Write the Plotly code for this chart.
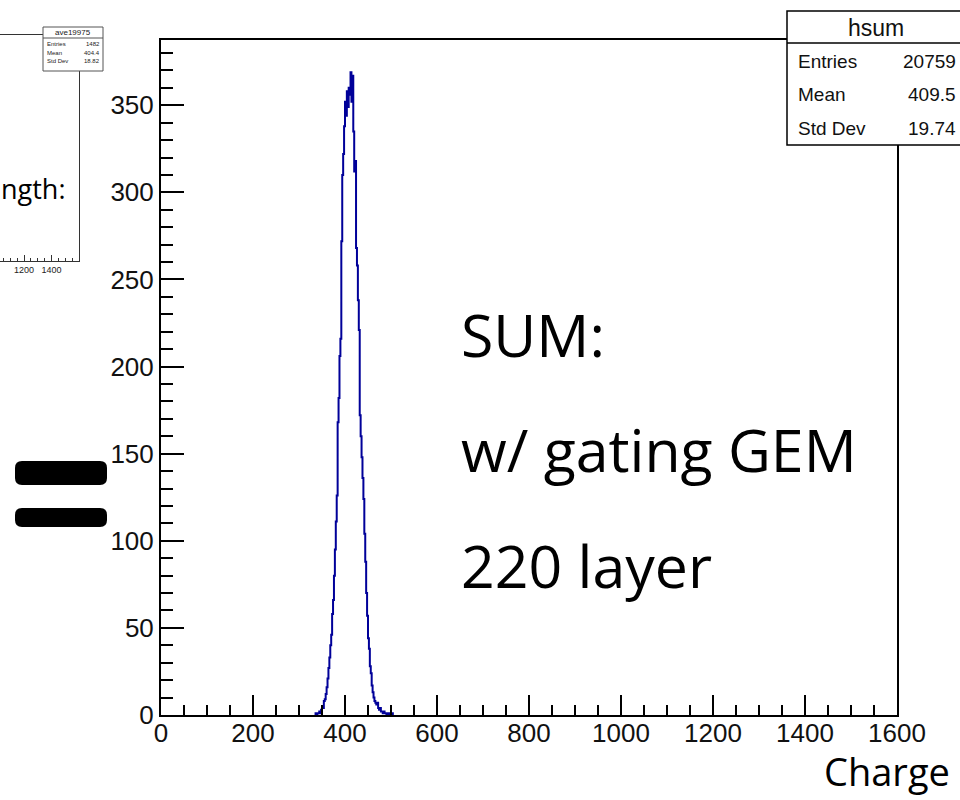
import plotly.graph_objects as go

# Summed charge spectrum (hsum), 2-unit bins starting at 334
bin_edges = list(range(334, 508, 2))
counts = [
    0, 1, 0, 1, 1, 2, 1, 3, 5, 4,
    8, 9, 12, 16, 21, 27, 33, 40, 46, 58,
    66, 80, 95, 111, 126, 168, 182, 206, 216, 272,
    310, 322, 338, 352, 344, 358, 349, 360, 356, 369,
    352, 367, 335, 312, 318, 268, 258, 238, 221, 172,
    160, 148, 136, 124, 104, 88, 70, 57, 44, 38,
    28, 24, 17, 13, 10, 8, 7, 6, 7, 4,
    3, 4, 2, 2, 1, 2, 1, 1, 0, 1,
    1, 0, 1, 0, 1, 0,
]
bin_width = 2

hsum_stats = [("Entries", "20759"), ("Mean", "409.5"), ("Std Dev", "19.74")]
ave_stats = [("Entries", "1482"), ("Mean", "404.4"), ("Std Dev", "18.82")]

x_ticks = [0, 200, 400, 600, 800, 1000, 1200, 1400, 1600]
y_ticks = [0, 50, 100, 150, 200, 250, 300, 350]

W, H = 960, 800


def px(x):
    return x / W


def py(y):
    return 1 - y / H


# step outline of the histogram
xs = [bin_edges[0]] + bin_edges[: len(counts)] + [bin_edges[len(counts) - 1] + bin_width]
ys = [0] + counts + [0]

fig = go.Figure()
fig.add_trace(go.Scatter(
    x=xs, y=ys, mode="lines", line=dict(color="#000099", width=2, shape="hv"),
    xaxis="x", yaxis="y", showlegend=False, hoverinfo="skip",
))
# neighbouring canvas on the left, only partly in view
fig.add_trace(go.Scatter(
    x=[1300], y=[0], mode="markers", marker=dict(opacity=0),
    xaxis="x2", yaxis="y2", showlegend=False, hoverinfo="skip",
))

tick_font = dict(family="Liberation Sans, Arial, sans-serif", size=26, color="#111")
ymax = 1.05 * max(counts)

# left canvas: 200 units every 27.5 px, 1600 at its right frame edge (x=79)
left_px_per_unit = 27.5 / 200
left_range_lo = 1600 - 79 / left_px_per_unit

fig.update_layout(
    width=W, height=H,
    margin=dict(l=0, r=0, t=0, b=0),
    paper_bgcolor="white", plot_bgcolor="white",
    xaxis=dict(
        domain=[px(161), px(897)], anchor="y", range=[0, 1600], automargin=False,
        tickvals=x_ticks, ticks="inside", ticklen=20, tickwidth=1.5, tickcolor="black",
        minor=dict(dtick=50, ticks="inside", ticklen=10, tickwidth=1.5, tickcolor="black"),
        showline=True, linecolor="black", linewidth=2, mirror=True,
        showgrid=False, zeroline=False, tickfont=tick_font, ticklabelstandoff=-6,
    ),
    yaxis=dict(
        domain=[py(715), py(40)], anchor="x", range=[0, ymax], automargin=False,
        tickvals=y_ticks, ticks="inside", ticklen=23, tickwidth=1.5, tickcolor="black",
        minor=dict(dtick=10, ticks="inside", ticklen=12, tickwidth=1.5, tickcolor="black"),
        showline=True, linecolor="black", linewidth=2, mirror=True,
        showgrid=False, zeroline=False, tickfont=tick_font,
    ),
    xaxis2=dict(
        domain=[0, px(79)], anchor="y2", range=[left_range_lo, 1600], automargin=False,
        tickvals=[1200, 1400], ticks="inside", ticklen=6, tickwidth=1, tickcolor="#333",
        minor=dict(dtick=50, ticks="inside", ticklen=3, tickwidth=1, tickcolor="#333"),
        showline=True, linecolor="#333", linewidth=1, mirror=True,
        showgrid=False, zeroline=False,
        tickfont=dict(family="Liberation Sans, Arial, sans-serif", size=9, color="#222"),
    ),
    yaxis2=dict(
        domain=[py(261), py(35)], anchor="x2", range=[0, 1], side="right", automargin=False,
        showticklabels=False, ticks="", showline=True, linecolor="#333", linewidth=1,
        mirror=False, showgrid=False, zeroline=False,
    ),
)

shapes = []
annotations = []

# hsum statistics box
shapes.append(dict(type="rect", xref="paper", yref="paper",
                   x0=px(787), x1=px(966), y0=py(145), y1=py(11),
                   line=dict(color="black", width=1.5), fillcolor="white", layer="above"))
shapes.append(dict(type="line", xref="paper", yref="paper",
                   x0=px(787), x1=px(966), y0=py(43), y1=py(43),
                   line=dict(color="black", width=1.5), layer="above"))
stat_font = dict(family="Liberation Sans, Arial, sans-serif", size=19, color="#111")
annotations.append(dict(text="hsum", x=px(876), y=py(28), xref="paper", yref="paper",
                        showarrow=False, xanchor="center", yanchor="middle",
                        font=dict(family="Liberation Sans, Arial, sans-serif", size=23, color="#111")))
for i, (name, val) in enumerate(hsum_stats):
    yy = py(61 + i * 33.5)
    annotations.append(dict(text=name, x=px(796), y=yy, xref="paper", yref="paper",
                            showarrow=False, xanchor="left", yanchor="middle", font=stat_font))
    annotations.append(dict(text=val, x=px(958), y=yy, xref="paper", yref="paper",
                            showarrow=False, xanchor="right", yanchor="middle", font=stat_font))

# ave19975 statistics box
shapes.append(dict(type="rect", xref="paper", yref="paper",
                   x0=px(43), x1=px(103), y0=py(71), y1=py(27),
                   line=dict(color="#555", width=1), fillcolor="white", layer="above"))
shapes.append(dict(type="line", xref="paper", yref="paper",
                   x0=px(43), x1=px(103), y0=py(38), y1=py(38),
                   line=dict(color="#555", width=1), layer="above"))
small_font = dict(family="Liberation Sans, Arial, sans-serif", size=6, color="#222")
annotations.append(dict(text="ave19975", x=px(73), y=py(32.5), xref="paper", yref="paper",
                        showarrow=False, xanchor="center", yanchor="middle",
                        font=dict(family="Liberation Sans, Arial, sans-serif", size=8, color="#222")))
for i, (name, val) in enumerate(ave_stats):
    yy = py(44 + i * 8.5)
    annotations.append(dict(text=name, x=px(45), y=yy, xref="paper", yref="paper",
                            showarrow=False, xanchor="left", yanchor="middle", font=small_font))
    annotations.append(dict(text=val, x=px(102), y=yy, xref="paper", yref="paper",
                            showarrow=False, xanchor="right", yanchor="middle", font=small_font))

# slide text
big_font = dict(family="'Open Sans', sans-serif", size=59, color="black")
for text, base in [("SUM:", 357), ("w/ gating GEM", 472), ("220 layer", 588)]:
    annotations.append(dict(text=text, x=px(459), y=py(base - 23), xref="paper", yref="paper",
                            showarrow=False, xanchor="left", yanchor="middle", font=big_font))
annotations.append(dict(text="ngth:", x=px(68), y=py(189), xref="paper", yref="paper",
                        showarrow=False, xanchor="right", yanchor="middle",
                        font=dict(family="'Open Sans', sans-serif", size=27, color="black")))
annotations.append(dict(text="Charge", x=px(822), y=py(771), xref="paper", yref="paper",
                        showarrow=False, xanchor="left", yanchor="middle",
                        font=dict(family="'Open Sans', sans-serif", size=38, color="black")))


# the "=" sign drawn as two rounded bars
def rounded_bar(x0, x1, y0, y1, r):
    X0, X1 = px(x0), px(x1)
    return (f"M {px(x0 + r)},{py(y0)} L {px(x1 - r)},{py(y0)} "
            f"Q {X1},{py(y0)} {X1},{py(y0 + r)} L {X1},{py(y1 - r)} "
            f"Q {X1},{py(y1)} {px(x1 - r)},{py(y1)} L {px(x0 + r)},{py(y1)} "
            f"Q {X0},{py(y1)} {X0},{py(y1 - r)} L {X0},{py(y0 + r)} "
            f"Q {X0},{py(y0)} {px(x0 + r)},{py(y0)} Z")


for (ya, yb) in [(461, 485), (508, 527)]:
    shapes.append(dict(type="path", xref="paper", yref="paper",
                       path=rounded_bar(15, 107, ya, yb, 7),
                       fillcolor="black", line=dict(width=0), layer="above"))

fig.update_layout(shapes=shapes, annotations=annotations)
fig.write_html("out.html")
